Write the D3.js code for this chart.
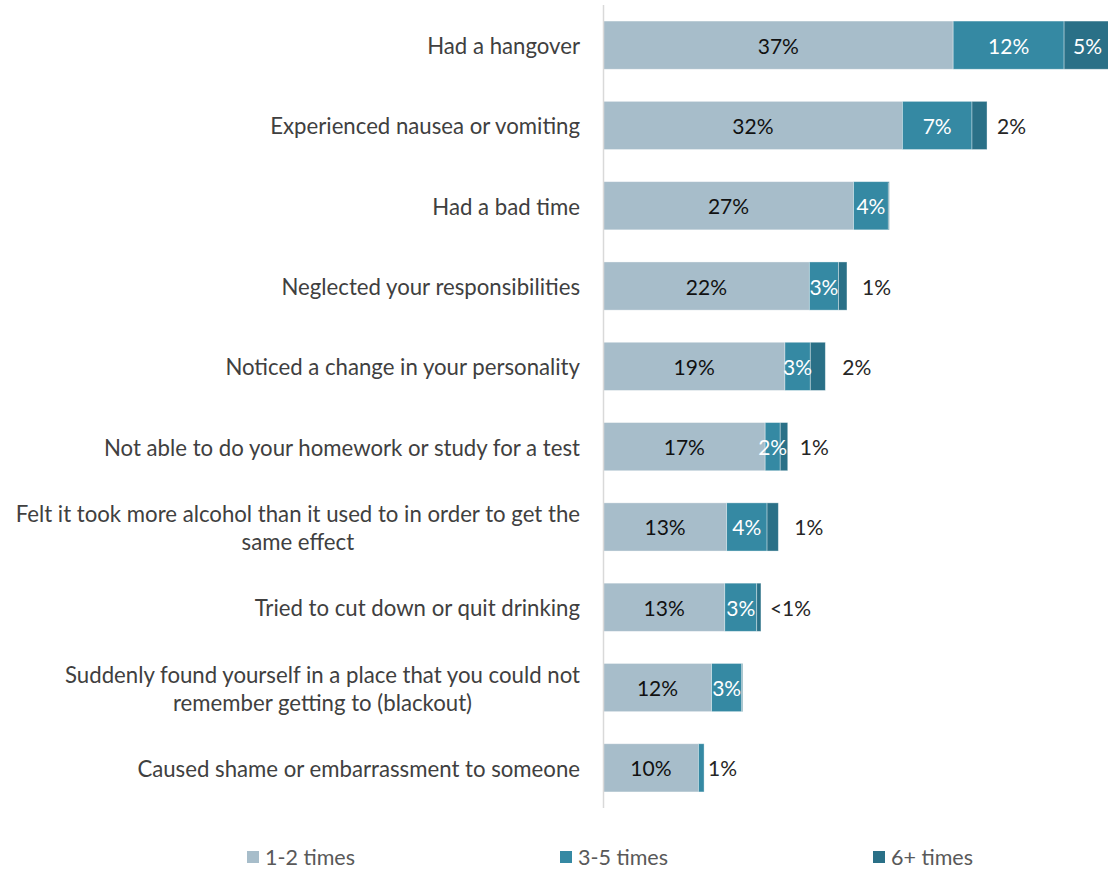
<!DOCTYPE html>
<html>
<head>
<meta charset="utf-8">
<script src="https://cdn.jsdelivr.net/npm/d3@7"></script>
<style>
  body { margin: 0; background: #fff; }
  svg { display: block; font-family: Lato, "Open Sans", sans-serif; }
</style>
</head>
<body>
<svg id="chart" width="1108" height="869"></svg>
<script>
// Consequences of drinking, share of respondents by frequency (%)
const categories = [
  "Had a hangover",
  "Experienced nausea or vomiting",
  "Had a bad time",
  "Neglected your responsibilities",
  "Noticed a change in your personality",
  "Not able to do your homework or study for a test",
  "Felt it took more alcohol than it used to in order to get the\nsame effect",
  "Tried to cut down or quit drinking",
  "Suddenly found yourself in a place that you could not\nremember getting to (blackout)",
  "Caused shame or embarrassment to someone"
];
const seriesNames = ["1-2 times", "3-5 times", "6+ times"];
const times1to2 = [37.2, 31.8, 26.6, 21.9, 19.3, 17.2, 13.1, 12.9, 11.5, 10.1];
const times3to5 = [11.8, 7.4, 3.7, 3.1, 2.7, 1.6, 4.3, 3.4, 3.2, 0.6];
const times6plus = [5.0, 1.6, 0.1, 0.9, 1.6, 0.8, 1.2, 0.45, 0.1, 0];

const colors = ["#a7bdca", "#3589a3", "#2a7087"];

// Extra spacing for labels that sit beyond the end of a short bar
const outsideGap = [0, 10, 0, 15, 17, 12, 16, 9, 0, 4];

const svg = d3.select("#chart");
const x0 = 603.5;

const x = d3.scaleLinear().domain([0, 54]).range([x0, x0 + 54 * 9.4]);
const y = d3.scaleBand().domain(categories).range([5, 808]).paddingInner(0.4).paddingOuter(0.2);

const stackData = categories.map((c, i) => ({
  cat: c, i,
  s0: times1to2[i], s1: times3to5[i], s2: times6plus[i]
}));
const layers = d3.stack().keys(["s0", "s1", "s2"])(stackData);

const fmt = v => v >= 0.5 ? Math.round(v) + "%" : "<1%";

// bars
svg.append("g").selectAll("g")
  .data(layers).join("g")
  .attr("fill", (d, k) => colors[k])
  .selectAll("rect")
  .data(d => d).join("rect")
  .attr("x", d => x(d[0]))
  .attr("y", d => y(d.data.cat))
  .attr("width", d => Math.max(0, x(d[1]) - x(d[0])))
  .attr("height", y.bandwidth())
  .attr("stroke", "#ffffff")
  .attr("stroke-opacity", 0.45)
  .attr("stroke-width", 0.8);

// vertical category axis line
svg.append("line")
  .attr("x1", x0).attr("x2", x0)
  .attr("y1", 5).attr("y2", 808)
  .attr("stroke", "#d9d9d9").attr("stroke-width", 1.5);

// value labels
const lbl = svg.append("g").attr("font-size", 21).attr("dominant-baseline", "central");
layers.forEach((layer, k) => {
  layer.forEach(d => {
    const v = d[1] - d[0];
    if (v < 0.25) return;
    const i = d.data.i;
    const cy = y(d.data.cat) + y.bandwidth() / 2;
    const segW = x(d[1]) - x(d[0]);
    const text = fmt(v);
    const isLastVisible = k === 2 || (k === 1 && times6plus[i] < 0.25);
    if (k === 0) {
      lbl.append("text").attr("x", (x(d[0]) + x(d[1])) / 2).attr("y", cy)
        .attr("text-anchor", "middle").attr("fill", "#111").text(text);
    } else if (segW >= 30 || !isLastVisible) {
      lbl.append("text").attr("x", (x(d[0]) + x(d[1])) / 2).attr("y", cy)
        .attr("text-anchor", "middle").attr("fill", "#ffffff").text(text);
    } else {
      const end = x(d3.sum([times1to2[i], times3to5[i], times6plus[i]]));
      lbl.append("text").attr("x", end + outsideGap[i]).attr("y", cy)
        .attr("text-anchor", "start").attr("fill", "#262626").text(text);
    }
  });
});

// category labels (multi-line labels centred on each other, block right-aligned)
const catG = svg.append("g").attr("font-size", 22.2).attr("fill", "#404040");
const lineH = 28;
categories.forEach(c => {
  const lines = c.split("\n");
  const cy = y(c) + y.bandwidth() / 2;
  const t = catG.append("text").attr("dominant-baseline", "central");
  const spans = lines.map((ln, j) => t.append("tspan")
    .attr("y", cy + (j - (lines.length - 1) / 2) * lineH).text(ln));
  const widths = spans.map(s => s.node().getComputedTextLength());
  const maxW = d3.max(widths);
  const right = 580;
  if (lines.length === 1) {
    t.attr("text-anchor", "end");
    spans[0].attr("x", right);
  } else {
    t.attr("text-anchor", "middle");
    spans.forEach(s => s.attr("x", right - maxW / 2));
  }
});

// legend
const legend = svg.append("g").attr("font-size", 21.5).attr("fill", "#595959");
const legendX = [247, 560, 873];
seriesNames.forEach((name, k) => {
  const g = legend.append("g").attr("transform", `translate(${legendX[k]},857)`);
  g.append("rect").attr("x", 0).attr("y", -6).attr("width", 12).attr("height", 12).attr("fill", colors[k]);
  g.append("text").attr("x", 18).attr("y", 0).attr("dominant-baseline", "central").text(name);
});
</script>
</body>
</html>
